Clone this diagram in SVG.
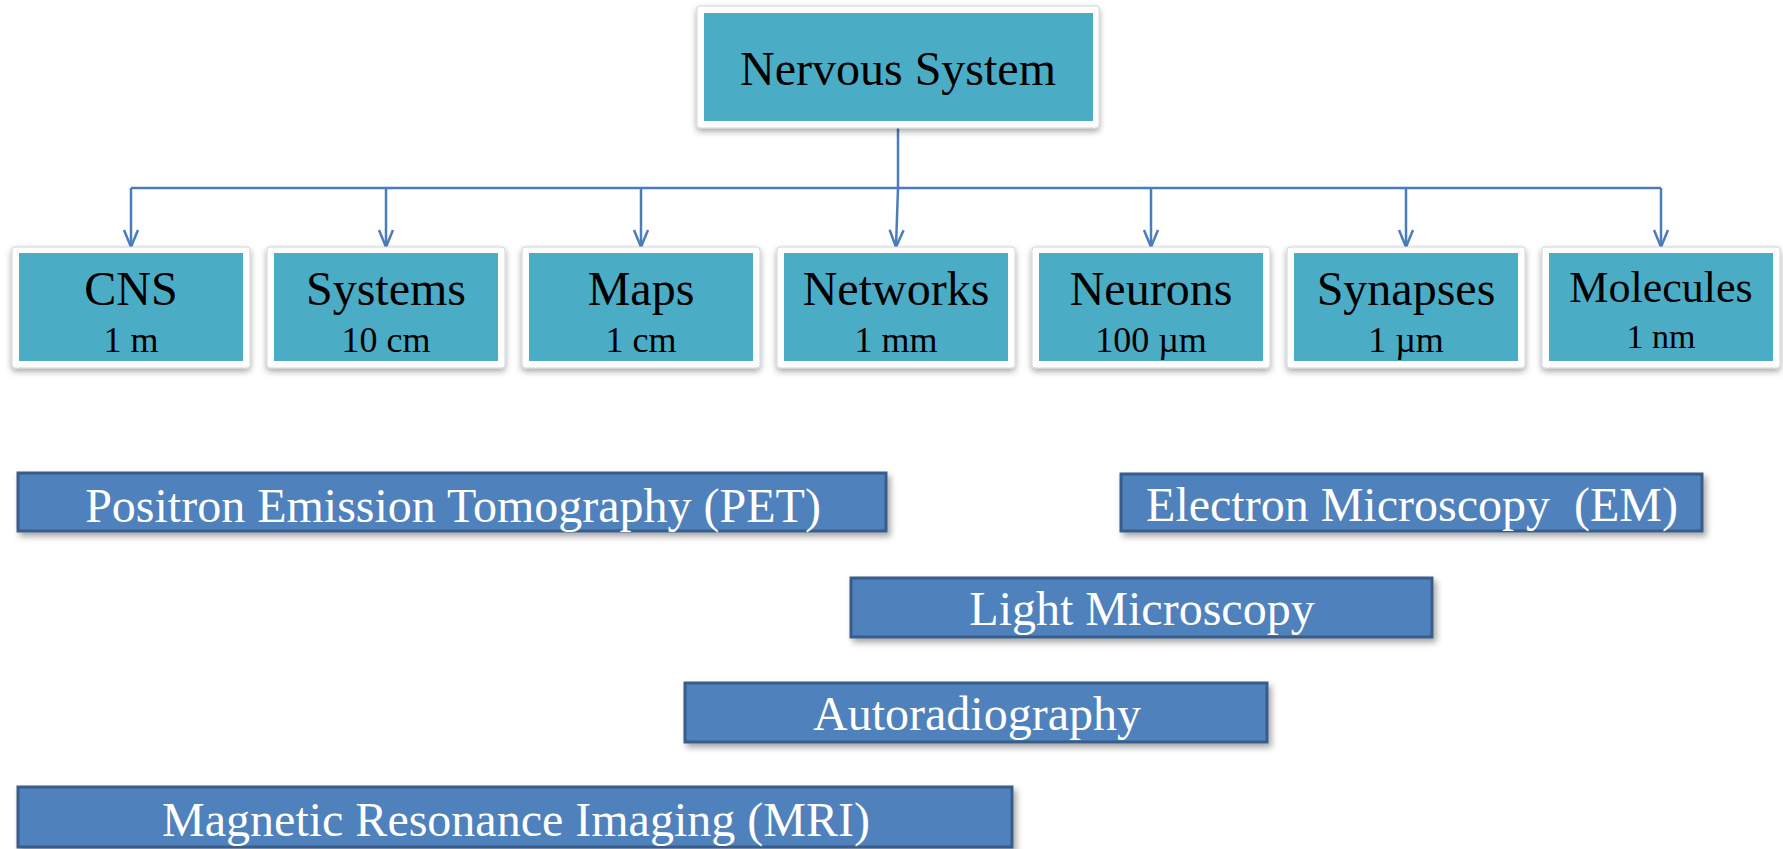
<svg xmlns="http://www.w3.org/2000/svg" width="1783" height="849" viewBox="0 0 1783 849">
<style>
.card{fill:#ffffff;stroke:#d4d4d4;stroke-width:1}
.teal{fill:#4BACC6}
.bar{fill:#4F81BD;stroke:#385D8A;stroke-width:3}
.t{font-family:"Liberation Serif","Times New Roman",serif;text-anchor:middle;fill:#000}
.big{font-size:48px}
.sub{font-size:36px}
.w{font-family:"Liberation Serif","Times New Roman",serif;text-anchor:middle;fill:#fff;font-size:48px}
.con{fill:none;stroke:#4A7EBB;stroke-width:2.5}
</style>
<defs>
<filter id="sh" x="-10%" y="-20%" width="120%" height="150%">
<feDropShadow dx="0" dy="3" stdDeviation="3" flood-color="#000" flood-opacity="0.35"/>
</filter>
<filter id="shb" x="-10%" y="-30%" width="120%" height="180%">
<feDropShadow dx="3" dy="4" stdDeviation="3" flood-color="#000" flood-opacity="0.35"/>
</filter>
<marker id="arr" markerUnits="userSpaceOnUse" markerWidth="40" markerHeight="40" refX="0" refY="0" orient="auto" overflow="visible">
<path d="M-17,-7 L0,0 L-17,7" fill="none" stroke="#4A7EBB" stroke-width="2.5"/>
</marker>
</defs>

<g id="connectors">
<path class="con" d="M898,128 V188"/>
<path class="con" d="M131,188 H1661"/>
<path class="con" d="M131,188 V247" marker-end="url(#arr)"/>
<path class="con" d="M386,188 V247" marker-end="url(#arr)"/>
<path class="con" d="M641,188 V247" marker-end="url(#arr)"/>
<path class="con" d="M898,188 L896,247" marker-end="url(#arr)"/>
<path class="con" d="M1151,188 V247" marker-end="url(#arr)"/>
<path class="con" d="M1406,188 V247" marker-end="url(#arr)"/>
<path class="con" d="M1661,188 V247" marker-end="url(#arr)"/>
</g>

<g id="nervous-system">
<rect class="card" x="697" y="6" width="402" height="122" rx="3" filter="url(#sh)"/>
<rect class="teal" x="704" y="13" width="389" height="108"/>
<text class="t big" x="898" y="85">Nervous System</text>
</g>

<g id="cns">
<rect class="card" x="12" y="247" width="238" height="121" rx="3" filter="url(#sh)"/>
<rect class="teal" x="19" y="253" width="224" height="108"/>
<text class="t big" x="131" y="305">CNS</text>
<text class="t sub" x="131" y="352">1 m</text>
</g>

<g id="systems">
<rect class="card" x="267" y="247" width="238" height="121" rx="3" filter="url(#sh)"/>
<rect class="teal" x="274" y="253" width="224" height="108"/>
<text class="t big" x="386" y="305">Systems</text>
<text class="t sub" x="386" y="352">10 cm</text>
</g>

<g id="maps">
<rect class="card" x="522" y="247" width="238" height="121" rx="3" filter="url(#sh)"/>
<rect class="teal" x="529" y="253" width="224" height="108"/>
<text class="t big" x="641" y="305">Maps</text>
<text class="t sub" x="641" y="352">1 cm</text>
</g>

<g id="networks">
<rect class="card" x="777" y="247" width="238" height="121" rx="3" filter="url(#sh)"/>
<rect class="teal" x="784" y="253" width="224" height="108"/>
<text class="t big" x="896" y="305">Networks</text>
<text class="t sub" x="896" y="352">1 mm</text>
</g>

<g id="neurons">
<rect class="card" x="1032" y="247" width="238" height="121" rx="3" filter="url(#sh)"/>
<rect class="teal" x="1039" y="253" width="224" height="108"/>
<text class="t big" x="1151" y="305">Neurons</text>
<text class="t sub" x="1151" y="352">100 µm</text>
</g>

<g id="synapses">
<rect class="card" x="1287" y="247" width="238" height="121" rx="3" filter="url(#sh)"/>
<rect class="teal" x="1294" y="253" width="224" height="108"/>
<text class="t big" x="1406" y="305">Synapses</text>
<text class="t sub" x="1406" y="352">1 µm</text>
</g>

<g id="molecules">
<rect class="card" x="1542" y="247" width="238" height="121" rx="3" filter="url(#sh)"/>
<rect class="teal" x="1549" y="253" width="224" height="108"/>
<text class="t" x="1661" y="302" font-size="44">Molecules</text>
<text class="t" x="1661" y="348" font-size="34">1 nm</text>
</g>

<g id="pet">
<rect class="bar" x="18" y="473" width="868" height="58" filter="url(#shb)"/>
<text class="w" x="453" y="522">Positron Emission Tomography (PET)</text>
</g>

<g id="em">
<rect class="bar" x="1121" y="474" width="581" height="57" filter="url(#shb)"/>
<text class="w" x="1412" y="521" xml:space="preserve">Electron Microscopy  (EM)</text>
</g>

<g id="light-microscopy">
<rect class="bar" x="851" y="578" width="581" height="59" filter="url(#shb)"/>
<text class="w" x="1142" y="625">Light Microscopy</text>
</g>

<g id="autoradiography">
<rect class="bar" x="685" y="683" width="582" height="59" filter="url(#shb)"/>
<text class="w" x="977" y="730">Autoradiography</text>
</g>

<g id="mri">
<rect class="bar" x="18" y="787" width="994" height="60" filter="url(#shb)"/>
<text class="w" x="516" y="836">Magnetic Resonance Imaging (MRI)</text>
</g>
</svg>
